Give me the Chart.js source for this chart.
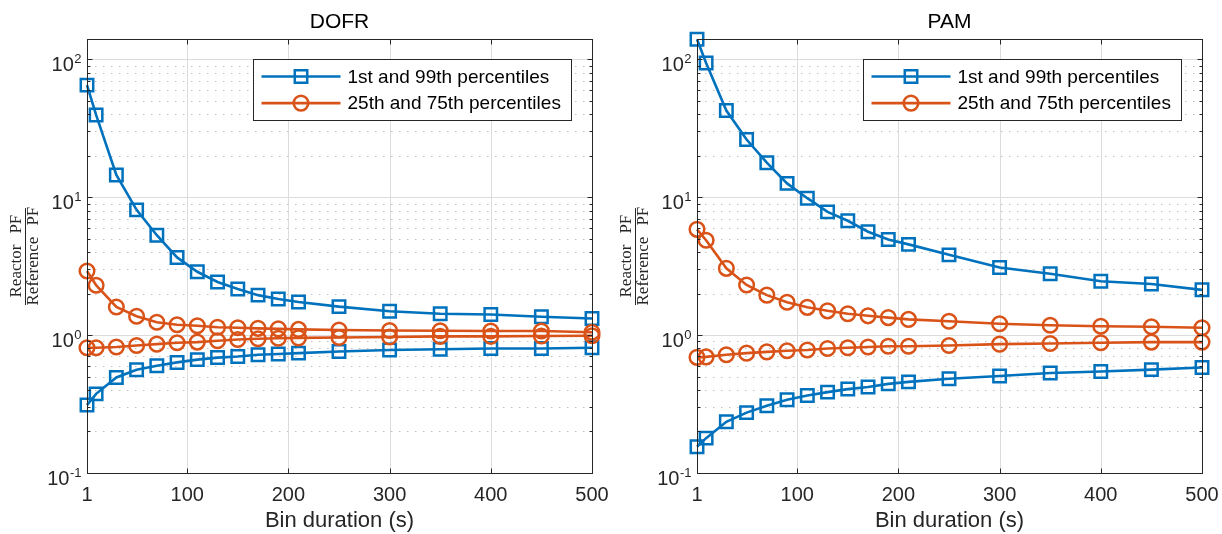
<!DOCTYPE html>
<html>
<head>
<meta charset="utf-8">
<script src="https://cdn.jsdelivr.net/npm/chart.js@4.4.1/dist/chart.umd.min.js"></script>
<style>
  html, body { margin: 0; padding: 0; background: #fff; }
  #wrap { position: relative; width: 1222px; height: 534px; }
  .panel { position: absolute; top: 0; width: 611px; height: 534px; }
</style>
</head>
<body>
<div id="wrap">
  <div class="panel" style="left:0"><canvas id="chartDofr" width="611" height="534"></canvas></div>
  <div class="panel" style="left:611px"><canvas id="chartPam" width="611" height="534"></canvas></div>
</div>
<script>
// Durée des bins (s)
const binDuration = [1, 10, 30, 50, 70, 90, 110, 130, 150, 170, 190, 210, 250, 300, 350, 400, 450, 500];

// DOFR : rapport Reactor PF / Reference PF par percentile
const dofrP99 = [65, 39.5, 14.5, 8.1, 5.3, 3.66, 2.88, 2.43, 2.16, 1.95, 1.83, 1.74, 1.61, 1.49, 1.43, 1.41, 1.36, 1.32];
const dofrP75 = [2.92, 2.30, 1.60, 1.37, 1.24, 1.19, 1.17, 1.14, 1.13, 1.12, 1.11, 1.10, 1.09, 1.08, 1.075, 1.07, 1.07, 1.05];
const dofrP25 = [0.81, 0.81, 0.82, 0.84, 0.86, 0.88, 0.89, 0.91, 0.93, 0.94, 0.95, 0.955, 0.96, 0.97, 0.98, 0.98, 0.985, 0.99];
const dofrP1 = [0.311, 0.375, 0.493, 0.56, 0.60, 0.634, 0.664, 0.687, 0.70, 0.72, 0.73, 0.74, 0.76, 0.78, 0.79, 0.80, 0.80, 0.81];

// PAM
const pamP99 = [140, 94, 42.5, 26.2, 17.8, 12.6, 9.84, 7.83, 6.75, 5.62, 4.93, 4.55, 3.82, 3.09, 2.79, 2.46, 2.35, 2.13];
const pamP75 = [5.85, 4.88, 3.05, 2.31, 1.95, 1.73, 1.59, 1.50, 1.43, 1.38, 1.34, 1.30, 1.26, 1.21, 1.18, 1.16, 1.15, 1.13];
const pamP25 = [0.69, 0.695, 0.72, 0.74, 0.756, 0.77, 0.78, 0.80, 0.81, 0.82, 0.83, 0.83, 0.84, 0.86, 0.87, 0.88, 0.89, 0.89];
const pamP1 = [0.155, 0.179, 0.235, 0.274, 0.307, 0.34, 0.365, 0.386, 0.406, 0.42, 0.443, 0.458, 0.482, 0.505, 0.531, 0.544, 0.562, 0.582];

// axes
const xTickValues = [1, 100, 200, 300, 400, 500];
const yDecades = [0.1, 1, 10, 100];
const yMin = 0.1, yMax = 140;
const legendLabels = ['1st and 99th percentiles', '25th and 75th percentiles'];

const BLUE = '#0072BD';
const ORANGE = '#D95319';
const AXIS = '#262626';
const SANS = '"Liberation Sans", Arial, Helvetica, sans-serif';
const SERIF = '"Liberation Serif", "Times New Roman", serif';

const markers = {
  rect: { pointStyle: 'rect', radius: 8.8 },
  circle: { pointStyle: 'circle', radius: 7.3 }
};

function minorValues() {
  const out = [];
  yDecades.forEach(d => {
    for (let m = 2; m <= 9; m++) {
      const v = m * d;
      if (v < yMax) out.push(v);
    }
  });
  return out;
}

// grille, cadre et graduations façon MATLAB
const axesPlugin = {
  id: 'axesBox',
  beforeDatasetsDraw(chart) {
    const { ctx, chartArea: a, scales: { x, y } } = chart;
    ctx.save();
    ctx.lineWidth = 1;
    // grille mineure pointillée
    ctx.strokeStyle = '#c0c0c0';
    ctx.setLineDash([1.5, 6.5]);
    minorValues().forEach(v => {
      const py = Math.round(y.getPixelForValue(v)) + 0.5;
      ctx.beginPath();
      ctx.moveTo(a.left, py);
      ctx.lineTo(a.right, py);
      ctx.stroke();
    });
    // grille majeure
    ctx.setLineDash([]);
    ctx.strokeStyle = '#dcdcdc';
    yDecades.forEach(v => {
      const py = Math.round(y.getPixelForValue(v)) + 0.5;
      ctx.beginPath();
      ctx.moveTo(a.left, py);
      ctx.lineTo(a.right, py);
      ctx.stroke();
    });
    xTickValues.forEach(v => {
      const px = Math.round(x.getPixelForValue(v)) + 0.5;
      ctx.beginPath();
      ctx.moveTo(px, a.top);
      ctx.lineTo(px, a.bottom);
      ctx.stroke();
    });
    ctx.restore();
  },
  afterDatasetsDraw(chart) {
    const { ctx, chartArea: a, scales: { x, y } } = chart;
    const L = Math.round(a.left) + 0.5, R = Math.round(a.right) + 0.5;
    const T = Math.round(a.top) + 0.5, B = Math.round(a.bottom) + 0.5;
    ctx.save();
    ctx.strokeStyle = AXIS;
    ctx.lineWidth = 1;
    ctx.strokeRect(L, T, R - L, B - T);
    ctx.beginPath();
    xTickValues.forEach(v => {
      const px = Math.round(x.getPixelForValue(v)) + 0.5;
      ctx.moveTo(px, B); ctx.lineTo(px, B - 5);
      ctx.moveTo(px, T); ctx.lineTo(px, T + 5);
    });
    yDecades.forEach(v => {
      const py = Math.round(y.getPixelForValue(v)) + 0.5;
      ctx.moveTo(L, py); ctx.lineTo(L + 5, py);
      ctx.moveTo(R, py); ctx.lineTo(R - 5, py);
    });
    minorValues().forEach(v => {
      const py = Math.round(y.getPixelForValue(v)) + 0.5;
      ctx.moveTo(L, py); ctx.lineTo(L + 3, py);
      ctx.moveTo(R, py); ctx.lineTo(R - 3, py);
    });
    ctx.stroke();
    ctx.restore();
  },
  afterDraw(chart) {
    const { ctx, chartArea: a, scales: { y } } = chart;
    ctx.save();
    ctx.fillStyle = AXIS;
    ctx.textAlign = 'left';
    ctx.textBaseline = 'alphabetic';

    // étiquettes 10^n
    yDecades.forEach(v => {
      const py = y.getPixelForValue(v);
      const sup = String(Math.round(Math.log10(v)));
      ctx.font = '20px ' + SANS;
      const bw = ctx.measureText('10').width;
      ctx.font = '13px ' + SANS;
      const sw = ctx.measureText(sup).width;
      const x0 = a.left - 6 - sw - bw;
      ctx.font = '20px ' + SANS;
      ctx.fillText('10', x0, py + 11.5);
      ctx.font = '13px ' + SANS;
      ctx.fillText(sup, x0 + bw + 0.5, py + 3.5);
    });

    // titre de l'axe y : fraction Reactor PF / Reference PF
    const cx = a.left - 62, cy = (a.top + a.bottom) / 2;
    ctx.translate(cx, cy);
    ctx.rotate(-Math.PI / 2);
    ctx.font = '17px ' + SERIF;
    const gap = 11;
    const drawPair = (word, baseY) => {
      const w1 = ctx.measureText(word).width;
      const w2 = ctx.measureText('PF').width;
      const start = -(w1 + gap + w2) / 2;
      ctx.fillText(word, start, baseY);
      ctx.fillText('PF', start + w1 + gap, baseY);
    };
    drawPair('Reactor', -4);
    drawPair('Reference', 13);
    ctx.strokeStyle = AXIS;
    ctx.lineWidth = 1;
    ctx.beginPath();
    ctx.moveTo(-49, 0.5);
    ctx.lineTo(48, 0.5);
    ctx.stroke();
    ctx.restore();

    // légende dans le coin supérieur droit
    const w = 318, h = 61;
    const left = Math.round(a.right - 21 - w) + 0.5;
    const top = Math.round(a.top + 20) + 0.5;
    ctx.save();
    ctx.fillStyle = '#fff';
    ctx.fillRect(left, top, w, h);
    ctx.strokeStyle = AXIS;
    ctx.lineWidth = 1;
    ctx.strokeRect(left, top, w, h);
    const rows = [
      { label: legendLabels[0], color: BLUE, mk: markers.rect },
      { label: legendLabels[1], color: ORANGE, mk: markers.circle }
    ];
    rows.forEach((r, i) => {
      const ry = top + 17 + i * 26.6;
      ctx.strokeStyle = r.color;
      ctx.lineWidth = 2.6;
      ctx.beginPath();
      ctx.moveTo(left + 8, ry);
      ctx.lineTo(left + 87, ry);
      ctx.stroke();
      ctx.fillStyle = 'rgba(0,0,0,0)';
      ctx.lineWidth = 2.5;
      Chart.helpers.drawPoint(ctx, { pointStyle: r.mk.pointStyle, radius: r.mk.radius, borderWidth: 2.5, rotation: 0 }, left + 47.5, ry);
      ctx.fillStyle = '#000';
      ctx.font = '19px ' + SANS;
      ctx.textBaseline = 'middle';
      ctx.fillText(r.label, left + 94, ry + 1);
    });
    ctx.restore();
  }
};

function series(values, color, mk, order) {
  return {
    data: values.map((v, i) => ({ x: binDuration[i], y: v })),
    borderColor: color,
    borderWidth: 2.6,
    pointStyle: mk.pointStyle,
    pointRadius: mk.radius,
    pointHoverRadius: mk.radius,
    pointBorderColor: color,
    pointBackgroundColor: 'rgba(0,0,0,0)',
    pointBorderWidth: 2.5,
    tension: 0,
    clip: false,
    order: order
  };
}

function buildChart(canvasId, title, p99, p75, p25, p1, rightPad, leftWidth) {
  const ctx = document.getElementById(canvasId).getContext('2d');
  return new Chart(ctx, {
    type: 'line',
    data: {
      datasets: [
        series(p75, ORANGE, markers.circle, 1),
        series(p25, ORANGE, markers.circle, 1),
        series(p99, BLUE, markers.rect, 2),
        series(p1, BLUE, markers.rect, 2)
      ]
    },
    options: {
      responsive: false,
      animation: false,
      events: [],
      devicePixelRatio: 1,
      layout: { padding: { left: 0, right: rightPad, top: 0, bottom: 0 } },
      plugins: {
        legend: { display: false },
        tooltip: { enabled: false },
        title: {
          display: true,
          text: title,
          fullSize: false,
          color: '#000',
          font: { family: SANS, size: 21, weight: 'normal' },
          padding: { top: 10, bottom: 4 }
        }
      },
      scales: {
        x: {
          type: 'linear',
          min: 1,
          max: 500,
          afterBuildTicks: s => { s.ticks = xTickValues.map(v => ({ value: v })); },
          afterFit: s => { s.height = 61; s.paddingLeft = 0; s.paddingRight = 0; },
          grid: { display: false },
          border: { display: false },
          ticks: {
            color: AXIS,
            padding: 2,
            maxRotation: 0,
            autoSkip: false,
            font: { family: SANS, size: 20 },
            callback: v => String(v)
          },
          title: {
            display: true,
            text: 'Bin duration (s)',
            color: AXIS,
            font: { family: SANS, size: 22 },
            padding: { top: 0, bottom: 0 }
          }
        },
        y: {
          type: 'logarithmic',
          min: yMin,
          max: yMax,
          afterFit: s => { s.width = leftWidth; },
          grid: { display: false },
          border: { display: false },
          ticks: { display: false }
        }
      }
    },
    plugins: [axesPlugin]
  });
}

buildChart('chartDofr', 'DOFR', dofrP99, dofrP75, dofrP25, dofrP1, 19, 87);
buildChart('chartPam', 'PAM', pamP99, pamP75, pamP25, pamP1, 20, 86);
</script>
</body>
</html>
